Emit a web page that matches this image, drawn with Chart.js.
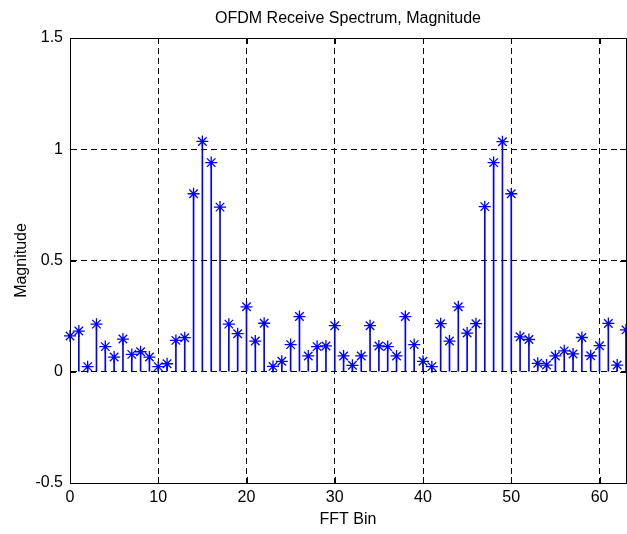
<!DOCTYPE html>
<html>
<head>
<meta charset="utf-8">
<script src="https://cdn.jsdelivr.net/npm/chart.js@4/dist/chart.umd.min.js"></script>
<style>
    html, body { margin: 0; padding: 0; background: #fff; }
    #wrap { width: 627px; height: 534px; }
</style>
</head>
<body>
<div id="wrap"><canvas id="espectro"></canvas></div>
<script>
    // FFT bins 0..63 and their magnitudes
    const BINS = [
        0, 1, 2, 3, 4, 5, 6, 7, 8, 9, 10, 11, 12, 13, 14, 15,
        16, 17, 18, 19, 20, 21, 22, 23, 24, 25, 26, 27, 28, 29, 30, 31,
        32, 33, 34, 35, 36, 37, 38, 39, 40, 41, 42, 43, 44, 45, 46, 47,
        48, 49, 50, 51, 52, 53, 54, 55, 56, 57, 58, 59, 60, 61, 62, 63
    ];
    const MAGNITUDE = [
        0.161, 0.183, 0.023, 0.214, 0.113, 0.066, 0.147, 0.078,
        0.090, 0.066, 0.023, 0.036, 0.141, 0.153, 0.800, 1.035,
        0.940, 0.740, 0.214, 0.171, 0.292, 0.138, 0.218, 0.024,
        0.047, 0.122, 0.248, 0.071, 0.113, 0.116, 0.207, 0.071,
        0.029, 0.071, 0.207, 0.116, 0.113, 0.071, 0.248, 0.122,
        0.047, 0.023, 0.216, 0.138, 0.292, 0.174, 0.216, 0.742,
        0.940, 1.034, 0.800, 0.157, 0.145, 0.038, 0.030, 0.071,
        0.094, 0.080, 0.154, 0.072, 0.117, 0.217, 0.030, 0.188
    ];
    const X_TICKS = [0, 10, 20, 30, 40, 50, 60];
    const Y_TICKS = [-0.5, 0, 0.5, 1, 1.5];
    const TITULO = 'OFDM Receive Spectrum, Magnitude';

    const FONT = 'Liberation Sans, Arial, sans-serif';
    const STEM_COLOR = 'rgb(0, 0, 255)';

    const stemPoints = BINS.map((b, i) => ({ x: b, y: MAGNITUDE[i] }));

    // box around the axes, inward tick marks on all four sides,
    // and the title centred over the plot area
    const boxPlugin = {
        id: 'boxTicks',
        afterDraw(chart) {
            const { ctx, chartArea: a, scales } = chart;
            const len = 6;
            ctx.save();
            ctx.strokeStyle = '#000';
            ctx.lineWidth = 1;
            ctx.setLineDash([]);
            ctx.beginPath();
            X_TICKS.forEach(v => {
                const px = Math.round(scales.x.getPixelForValue(v)) + 0.5;
                ctx.moveTo(px, a.bottom); ctx.lineTo(px, a.bottom - len);
                ctx.moveTo(px, a.top); ctx.lineTo(px, a.top + len);
            });
            Y_TICKS.forEach(v => {
                const py = Math.round(scales.y.getPixelForValue(v)) + 0.5;
                ctx.moveTo(a.left, py); ctx.lineTo(a.left + len, py);
                ctx.moveTo(a.right, py); ctx.lineTo(a.right - len, py);
            });
            ctx.stroke();
            ctx.strokeRect(Math.round(a.left) + 0.5, Math.round(a.top) + 0.5,
                Math.round(a.right - a.left), Math.round(a.bottom - a.top));

            ctx.fillStyle = '#000';
            ctx.font = '16px ' + FONT;
            ctx.textAlign = 'center';
            ctx.textBaseline = 'middle';
            ctx.fillText(TITULO, (a.left + a.right) / 2, 19);
            ctx.restore();
        }
    };

    const CHART = document.getElementById('espectro');
    new Chart(CHART, {
        data: {
            datasets: [
                {
                    type: 'scatter',
                    label: 'marcadores',
                    data: stemPoints,
                    showLine: false,
                    pointStyle: 'star',
                    pointRadius: 6,
                    borderColor: STEM_COLOR,
                    backgroundColor: STEM_COLOR,
                    pointBorderWidth: 1.3,
                    clip: false,
                    order: 0
                },
                {
                    type: 'bar',
                    label: 'hastes',
                    data: stemPoints,
                    barThickness: 1,
                    backgroundColor: STEM_COLOR,
                    borderWidth: 0,
                    order: 1
                }
            ]
        },
        options: {
            responsive: true,
            maintainAspectRatio: false,
            animation: false,
            layout: { autoPadding: false, padding: { left: 0, right: 1, top: 38, bottom: 0 } },
            plugins: {
                legend: { display: false },
                tooltip: { enabled: false },
                title: { display: false }
            },
            scales: {
                x: {
                    type: 'linear',
                    min: 0,
                    max: 63,
                    offset: false,
                    afterFit(scale) { scale.height = 51; },
                    afterBuildTicks(scale) { scale.ticks = X_TICKS.map(v => ({ value: v })); },
                    ticks: {
                        color: '#000',
                        padding: 5,
                        maxRotation: 0,
                        font: { family: FONT, size: 16 }
                    },
                    grid: { color: '#000', lineWidth: 1, drawTicks: false, offset: false },
                    border: { display: true, color: '#000', width: 1, dash: [6, 4] },
                    title: {
                        display: true,
                        text: 'FFT Bin',
                        color: '#000',
                        font: { family: FONT, size: 16 },
                        padding: { top: 0, bottom: 5 }
                    }
                },
                y: {
                    type: 'linear',
                    min: -0.5,
                    max: 1.5,
                    afterFit(scale) { scale.width = 70; },
                    afterBuildTicks(scale) { scale.ticks = Y_TICKS.map(v => ({ value: v })); },
                    ticks: {
                        color: '#000',
                        padding: 7,
                        font: { family: FONT, size: 16 },
                        callback: v => String(v)
                    },
                    grid: { color: '#000', lineWidth: 1, drawTicks: false },
                    border: { display: true, color: '#000', width: 1, dash: [6, 4] },
                    title: {
                        display: true,
                        text: 'Magnitude',
                        color: '#000',
                        font: { family: FONT, size: 16 },
                        padding: { top: 12, bottom: 0 }
                    }
                }
            }
        },
        plugins: [boxPlugin]
    });
</script>
</body>
</html>
